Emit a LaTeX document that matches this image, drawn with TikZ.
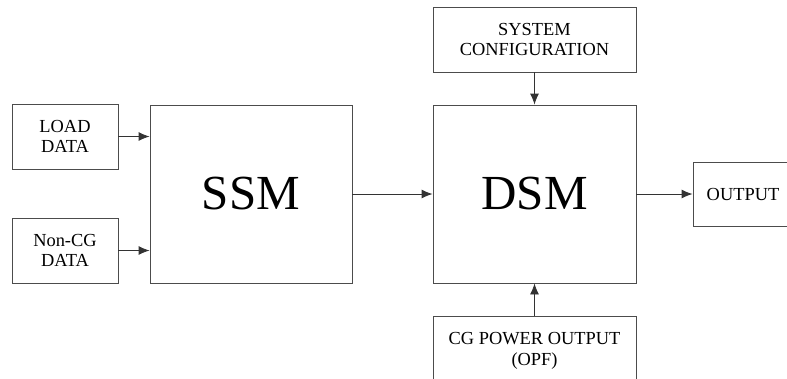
\documentclass[tikz,border=0pt]{standalone}
\usepackage{fontspec}
\setmainfont{Liberation Serif}
\usetikzlibrary{arrows.meta}

\begin{document}
\begin{tikzpicture}[x=1pt, y=-1pt,
    block/.style={draw=black!70, line width=0.9pt, inner sep=0pt, align=center,
        font=\fontsize{18.4}{20.5}\selectfont},
    bigblock/.style={block, font=\fontsize{49}{52}\selectfont},
    link/.style={draw=black!80, line width=0.9pt, -{Latex[length=11pt,width=9pt]}}]
    \useasboundingbox (0,0) rectangle (787,378);

    % inputs on the left
    \node[block, minimum width=106pt, minimum height=65pt] (load) at (65,136.5) {LOAD\\DATA};
    \node[block, minimum width=106pt, minimum height=65pt] (noncg) at (65,250.5) {Non-CG\\DATA};

    % main modules
    \node[bigblock, minimum width=202pt, minimum height=178pt] (ssm) at (251,194) {SSM};
    \node[bigblock, minimum width=203pt, minimum height=178pt] (dsm) at (534.5,194) {DSM};

    % inputs and output around DSM
    \node[block, minimum width=203pt, minimum height=65pt] (syscfg) at (534.5,39.5) {SYSTEM\\CONFIGURATION};
    \node[block, minimum width=203pt, minimum height=70pt] (cgpow) at (534.5,351) {CG POWER OUTPUT\\(OPF)};
    \node[block, minimum width=100pt, minimum height=64pt] (output) at (743,194) {OUTPUT};

    % connections
    \draw[link] (load.east) -- (load.east -| ssm.west);
    \draw[link] (noncg.east) -- (noncg.east -| ssm.west);
    \draw[link] (ssm.east) -- (dsm.west);
    \draw[link] (dsm.east) -- (output.west);
    \draw[link] (syscfg.south) -- (dsm.north);
    \draw[link] (cgpow.north) -- (dsm.south);
\end{tikzpicture}
\end{document}
